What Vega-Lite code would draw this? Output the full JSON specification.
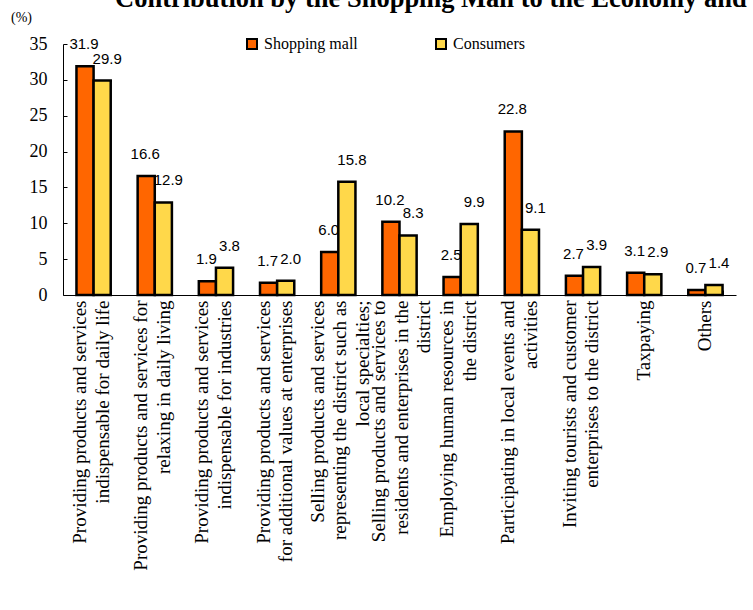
{
  "$schema": "https://vega.github.io/schema/vega-lite/v6.json",
  "autosize": {"type": "none"},
  "width": 673,
  "height": 251,
  "padding": {"left": 63, "top": 44, "right": 17, "bottom": 315},
  "background": "white",
  "title": {
    "text": "Contribution by the Shopping Mall to the Economy and",
    "anchor": "start",
    "frame": "group",
    "font": "Liberation Serif",
    "fontSize": 26.5,
    "fontWeight": "bold",
    "color": "black",
    "baseline": "alphabetic",
    "offset": 0,
    "dx": 52,
    "dy": 23
  },
  "data": {
    "values": [
      {"category": "Providing products and services\nindispensable for daily life", "series": "Shopping mall", "value": 31.9},
      {"category": "Providing products and services\nindispensable for daily life", "series": "Consumers", "value": 29.9},
      {"category": "Providing products and services for\nrelaxing in daily living", "series": "Shopping mall", "value": 16.6},
      {"category": "Providing products and services for\nrelaxing in daily living", "series": "Consumers", "value": 12.9},
      {"category": "Providing products and services\nindispensable for industries", "series": "Shopping mall", "value": 1.9},
      {"category": "Providing products and services\nindispensable for industries", "series": "Consumers", "value": 3.8},
      {"category": "Providing products and services\nfor additional values at enterprises", "series": "Shopping mall", "value": 1.7},
      {"category": "Providing products and services\nfor additional values at enterprises", "series": "Consumers", "value": 2.0},
      {"category": "Selling products and services\nrepresenting the district such as\nlocal specialties;", "series": "Shopping mall", "value": 6.0},
      {"category": "Selling products and services\nrepresenting the district such as\nlocal specialties;", "series": "Consumers", "value": 15.8},
      {"category": "Selling products and services to\nresidents and enterprises in the\ndistrict", "series": "Shopping mall", "value": 10.2},
      {"category": "Selling products and services to\nresidents and enterprises in the\ndistrict", "series": "Consumers", "value": 8.3},
      {"category": "Employing human resources in\nthe district", "series": "Shopping mall", "value": 2.5},
      {"category": "Employing human resources in\nthe district", "series": "Consumers", "value": 9.9},
      {"category": "Participating in local events and\nactivities", "series": "Shopping mall", "value": 22.8},
      {"category": "Participating in local events and\nactivities", "series": "Consumers", "value": 9.1},
      {"category": "Inviting tourists and customer\nenterprises to the district", "series": "Shopping mall", "value": 2.7},
      {"category": "Inviting tourists and customer\nenterprises to the district", "series": "Consumers", "value": 3.9},
      {"category": "Taxpaying", "series": "Shopping mall", "value": 3.1},
      {"category": "Taxpaying", "series": "Consumers", "value": 2.9},
      {"category": "Others", "series": "Shopping mall", "value": 0.7},
      {"category": "Others", "series": "Consumers", "value": 1.4}
    ]
  },
  "encoding": {
    "x": {
      "field": "category",
      "type": "nominal",
      "sort": null,
      "scale": {"paddingInner": 0.44, "paddingOuter": 0.22},
      "axis": {
        "title": null,
        "labelAngle": -90,
        "labelAlign": "right",
        "labelBaseline": "middle",
        "labelExpr": "split(datum.label, '\\n')",
        "labelFont": "Liberation Serif",
        "labelFontSize": 19,
        "labelLineHeight": 22.5,
        "labelColor": "black",
        "labelOffset": {
          "condition": [
            {"test": "indexof(datum.label, '\\n') < 0", "value": -1},
            {"test": "length(split(datum.label, '\\n')) > 2", "value": -21}
          ],
          "value": -14
        },
        "labelPadding": 10,
        "labelLimit": 400,
        "tickBand": "extent",
        "tickSize": -5,
        "tickColor": "black",
        "domainColor": "black",
        "domainWidth": 1
      }
    },
    "xOffset": {"field": "series", "type": "nominal", "sort": ["Shopping mall", "Consumers"]},
    "y": {
      "field": "value",
      "type": "quantitative",
      "scale": {"domain": [0, 35], "nice": false},
      "axis": {
        "values": [0, 5, 10, 15, 20, 25, 30, 35],
        "grid": false,
        "title": "(%)",
        "titleAngle": 0,
        "titleFont": "Liberation Serif",
        "titleFontSize": 14,
        "titleFontWeight": "normal",
        "titleColor": "black",
        "titleX": -42,
        "titleY": -27,
        "titleAlign": "center",
        "titleBaseline": "middle",
        "labelFont": "Liberation Serif",
        "labelFontSize": 18,
        "labelColor": "black",
        "labelPadding": 20,
        "tickSize": -4,
        "tickColor": "black",
        "domainColor": "black"
      }
    }
  },
  "layer": [
    {
      "mark": {"type": "bar", "stroke": "black", "strokeWidth": 2.5},
      "encoding": {
        "fill": {
          "field": "series",
          "type": "nominal",
          "sort": ["Shopping mall", "Consumers"],
          "scale": {"domain": ["Shopping mall", "Consumers"], "range": ["#FF6600", "#FFD84A"]},
          "legend": {
            "title": null,
            "orient": "none",
            "direction": "horizontal",
            "legendX": 181,
            "legendY": -8,
            "symbolType": "square",
            "symbolSize": 100,
            "symbolStrokeColor": "black",
            "symbolStrokeWidth": 2,
            "labelFont": "Liberation Serif",
            "labelFontSize": 16,
            "labelColor": "black",
            "columnPadding": 74
          }
        }
      }
    },
    {
      "transform": [{"filter": "datum.series === 'Shopping mall'"}],
      "mark": {"type": "text", "baseline": "middle", "dy": -22, "dx": -1, "font": "Liberation Sans", "fontSize": 15, "color": "black"},
      "encoding": {"text": {"field": "value", "type": "quantitative", "format": ".1f"}}
    },
    {
      "transform": [{"filter": "datum.series === 'Consumers'"}],
      "mark": {"type": "text", "baseline": "middle", "dy": -22, "dx": 5, "font": "Liberation Sans", "fontSize": 15, "color": "black"},
      "encoding": {"text": {"field": "value", "type": "quantitative", "format": ".1f"}}
    }
  ],
  "config": {"view": {"stroke": null}}
}
